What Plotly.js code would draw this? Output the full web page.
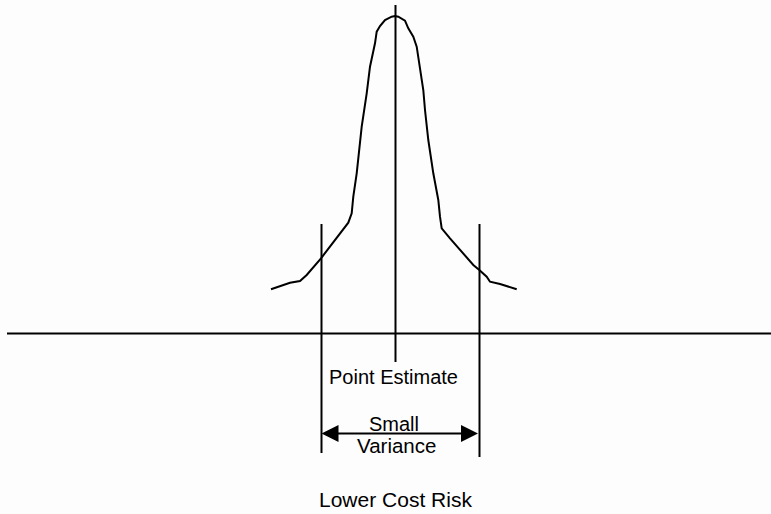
<!DOCTYPE html>
<html>
<head>
<meta charset="utf-8">
<script src="https://cdn.plot.ly/plotly-3.0.1.min.js"></script>
<style>html,body{margin:0;padding:0;background:#fff;}#chart{width:771px;height:514px;}</style>
</head>
<body>
<div id="chart"></div>
<script>
// Distribution curve (x = cost, y = vertical position on a top-down scale)
var curveX = [271, 280, 290, 300, 306.7, 321, 336.7, 348.3, 351.7, 353.3, 356.7, 360, 361.7, 366.7, 370, 375, 376.7, 380, 385, 391.7, 395,
              398.3, 405, 408.3, 413.3, 416.7, 420, 423.3, 425, 428.3, 433.3, 438.3, 440, 441.7, 450, 463.3, 473.3, 479.3, 486.7, 490, 500, 516.7];
var curveY = [289.3, 286, 282.7, 281, 275, 258.3, 238.3, 222.7, 213.3, 196.7, 173.3, 140, 126.7, 93.3, 66.7, 43.3, 31.7, 26, 20, 16.7, 16,
              16.7, 20.7, 28.3, 36.7, 46.7, 70, 90, 110, 140, 173.3, 200, 216.7, 228.3, 238.3, 253.3, 265, 270, 276.7, 281.7, 284, 289.3];

// Baseline (cost axis)
var baselineX = [7, 771];
var baselineY = [333.5, 333.5];

// Marker lines: lower bound, point estimate, upper bound
var markerX = [321.5, 395.5, 479.5];
var markerTop = [224, 5, 224];
var markerBottom = [453, 362, 457];

// Variance arrow
var arrowFrom = 321.5, arrowTo = 479.5, arrowY = 433.5;

// Labels
var labelText = ["Point Estimate", "Small", "Variance", "Lower Cost Risk"];
var labelX = [393, 394, 396, 395.5];
var labelY = [377, 423.5, 445.5, 499.5];
var labelSize = [20, 20, 20.5, 21];

var traces = [];
traces.push({x: curveX, y: curveY, mode: 'lines', line: {color: '#000', width: 2}, hoverinfo: 'skip'});
traces.push({x: baselineX, y: baselineY, mode: 'lines', line: {color: '#000', width: 2.2}, hoverinfo: 'skip'});
for (var i = 0; i < markerX.length; i++) {
  traces.push({x: [markerX[i], markerX[i]], y: [markerTop[i], markerBottom[i]], mode: 'lines',
               line: {color: '#000', width: 2}, hoverinfo: 'skip'});
}

var annotations = [];
for (var j = 0; j < labelText.length; j++) {
  annotations.push({x: labelX[j], y: labelY[j], xref: 'x', yref: 'y', text: labelText[j], showarrow: false,
                    xanchor: 'center', yanchor: 'middle',
                    font: {family: 'Liberation Sans, Arial, sans-serif', size: labelSize[j], color: '#000'}});
}
annotations.push({x: arrowFrom, y: arrowY, ax: arrowTo, ay: arrowY, xref: 'x', yref: 'y', axref: 'x', ayref: 'y',
                  text: '', showarrow: true, arrowhead: 2, arrowside: 'end+start', arrowsize: 1.7, arrowwidth: 2,
                  arrowcolor: '#000', standoff: 0, startstandoff: 0});

var layout = {
  width: 771, height: 514,
  margin: {l: 0, r: 0, t: 0, b: 0, pad: 0},
  paper_bgcolor: '#fdfdfd', plot_bgcolor: '#fdfdfd',
  showlegend: false,
  xaxis: {range: [0, 771], visible: false, fixedrange: true},
  yaxis: {range: [514, 0], visible: false, fixedrange: true},
  annotations: annotations
};

Plotly.newPlot('chart', traces, layout, {displayModeBar: false, staticPlot: true});
</script>
</body>
</html>
